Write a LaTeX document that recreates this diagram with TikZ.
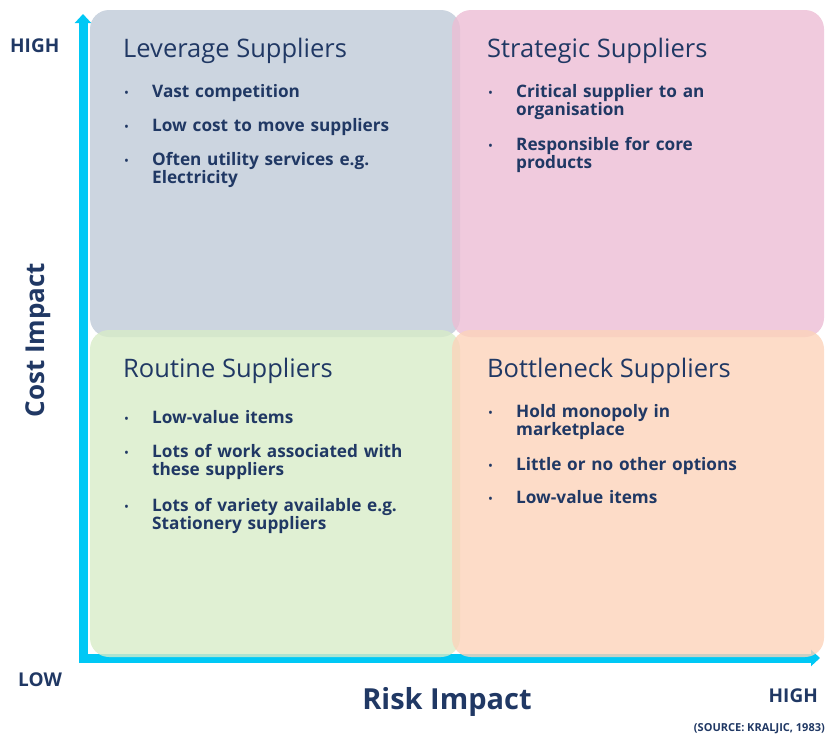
\documentclass[tikz,border=0pt]{standalone}
\usepackage{fontspec}
\setmainfont{Open Sans}
\usetikzlibrary{arrows.meta}

\definecolor{navy}{RGB}{32,56,100}
\definecolor{axiscyan}{RGB}{0,200,245}
\definecolor{levfill}{RGB}{191,202,216}
\definecolor{stratfill}{RGB}{236,189,212}
\definecolor{routfill}{RGB}{216,236,200}
\definecolor{bottfill}{RGB}{252,211,186}

\tikzset{
  quad/.style={rounded corners=19pt, fill opacity=0.8},
  axisline/.style={line width=9pt, draw=axiscyan, -{Triangle[length=9pt,width=16pt]}},
  heading/.style={anchor=base west, inner sep=0pt, text=navy, font=\fontsize{25.5}{30}\selectfont},
  point/.style={anchor=base west, inner sep=0pt, text=navy, text width=290pt, align=left,
    font=\bfseries\fontsize{17.2}{18.5}\selectfont},
  dot/.style={anchor=base west, inner sep=0pt, text=navy, font=\fontsize{13}{13}\selectfont},
  level/.style={inner sep=0pt, text=navy, font=\bfseries\fontsize{19}{22}\selectfont},
}

\begin{document}
\begin{tikzpicture}[x=1pt, y=-1pt]
  \useasboundingbox (0,0) rectangle (825,736);

  % axes
  \coordinate (ybot) at (83,663);
  \coordinate (ytop) at (83,14);
  \coordinate (xleft) at (79,658);
  \coordinate (xright) at (820,658);
  \draw[axisline] (ybot) -- (ytop);
  \draw[axisline] (xleft) -- (xright);

  % the four quadrants
  \fill[quad, levfill]   (90,10)  rectangle (460,337);
  \fill[quad, stratfill] (452,10) rectangle (824,337);
  \fill[quad, routfill]  (90,330) rectangle (460,657);
  \fill[quad, bottfill]  (452,330) rectangle (824,657);

  \node[heading] (leverage) at (123,57) {Leverage Suppliers};
  \foreach \y/\txt [count=\i] in {97/Vast competition,
      131/Low cost to move suppliers,
      165/{Often utility services e.g.\\Electricity}} {
    \node[dot] (leverage-dot\i) at (124,\y) {•};
    \node[point] (leverage-\i) at (152,\y) {\txt};
  }

  \node[heading] (strategic) at (487,57) {Strategic Suppliers};
  \foreach \y/\txt [count=\i] in {97/{Critical supplier to an\\organisation},
      150/{Responsible for core\\products}} {
    \node[dot] (strategic-dot\i) at (488,\y) {•};
    \node[point] (strategic-\i) at (516,\y) {\txt};
  }

  \node[heading] (routine) at (123,377) {Routine Suppliers};
  \foreach \y/\txt [count=\i] in {423/Low-value items,
      457/{Lots of work associated with\\these suppliers},
      511/{Lots of variety available e.g.\\Stationery suppliers}} {
    \node[dot] (routine-dot\i) at (124,\y) {•};
    \node[point] (routine-\i) at (152,\y) {\txt};
  }

  \node[heading] (bottleneck) at (487,377) {Bottleneck Suppliers};
  \foreach \y/\txt [count=\i] in {417/{Hold monopoly in\\marketplace},
      470/Little or no other options,
      503/Low-value items} {
    \node[dot] (bottleneck-dot\i) at (488,\y) {•};
    \node[point] (bottleneck-\i) at (516,\y) {\txt};
  }

  % axis labels
  \node[level, anchor=base west] (yhigh) at (10,52) {HIGH};
  \node[level, anchor=base west] (xlow) at (18,686) {LOW};
  \node[level, anchor=base east] (xhigh) at (818,702) {HIGH};
  \node[inner sep=0pt, text=navy, rotate=90, font=\bfseries\fontsize{26}{30}\selectfont]
    (costlabel) at (38,340) {Cost Impact};
  \node[inner sep=0pt, text=navy, anchor=base, font=\bfseries\fontsize{29}{32}\selectfont]
    (risklabel) at (447,709) {Risk Impact};
  \node[inner sep=0pt, text=navy, anchor=base east, font=\bfseries\fontsize{11}{12}\selectfont]
    (source) at (825,731) {(SOURCE: KRALJIC, 1983)};
\end{tikzpicture}
\end{document}
